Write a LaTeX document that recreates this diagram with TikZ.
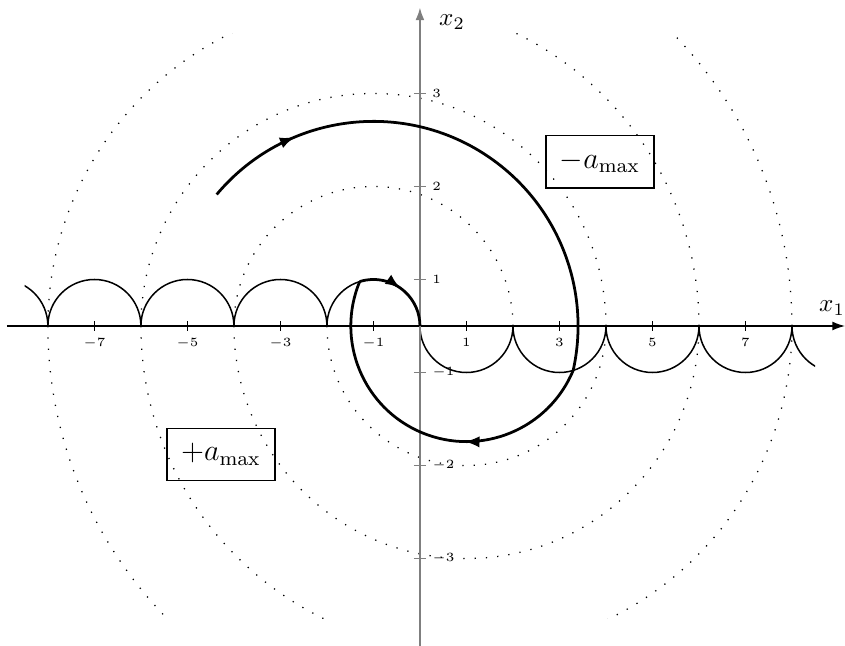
\documentclass[tikz,border=0pt]{standalone}
\usepackage{amsmath}
\usepackage{tikz}
\usetikzlibrary{arrows.meta,decorations.markings,positioning}
\definecolor{AxisGray}{HTML}{7F7F7F}
\tikzset{
  % Axes and ticks
  axX/.style={line width=0.5pt,-{Latex[length=5pt,width=3.5pt]}},
  axY/.style={line width=0.7pt,draw=AxisGray,-{Latex[length=5pt,width=3.5pt]}},
  tk/.style={line width=0.5pt},
  tkY/.style={line width=0.5pt,draw=AxisGray},
  TL/.style={font=\tiny,inner sep=1pt},
  % Switching curve
  sw/.style={line width=0.6pt},
  % Level circles
  lv/.style={loosely dotted,line width=0.5pt},
  % Trajectory
  traj/.style={line width=1.1pt},
  marr/.style={postaction={decorate},
    decoration={markings,mark=at position #1 with {\arrow{Latex[length=6pt,width=4.5pt]}}}},
  % Control boxes
  ctl/.style={draw,line width=0.5pt,minimum width=1.51cm,minimum height=0.73cm,font=\large}
}

\begin{document}
\begin{tikzpicture}[x=0.65cm,y=0.65cm]
  \useasboundingbox (-9.03,-6.88) rectangle (9.14,7.01);

  % level circles and switching curve
  \begin{scope}
    \clip (-8.5,-6.28) rectangle (8.5,6.28);
    \foreach \r in {3,5,7}{
      \draw[lv] (-1+\r,0) arc (0:180:\r);
      \draw[lv] (1-\r,0) arc (180:360:\r);
    }
    \draw[lv] (8,0) arc (0:90:9);
    \draw[lv] (-8,0) arc (180:270:9);
    \foreach \c in {1,3,5,7,9}{
      \draw[sw] (-\c+1,0) arc (0:180:1);
      \draw[sw] (\c-1,0) arc (180:360:1);
    }
  \end{scope}

  % axes
  \draw[axX] (-8.88,0) -- (9.14,0);
  \draw[axY] (0,-6.95) -- (0,6.85);
  \node (xa) at (8.86,0.39) {$x_1$};
  \node (ya) at (0.69,6.53) {$x_2$};
  \foreach \i in {-7,-5,...,7}{
    \draw[tk] (\i,-0.1) -- (\i,0.1);
    \node[TL,below] (tx\i) at (\i,-0.2) {$\i$};
  }
  \foreach \p/\t in {1/1,3/2,5/3,-1/-1,-3/-2,-5/-3}{
    \draw[tkY] (-0.13,\p) -- (0.13,\p);
    \node[TL,right] (ty\t) at (0.2,\p) {$\t$};
  }

  % optimal path
  \draw[traj,marr=0.18] (-1,0) ++(140:4.4) arc (140:-12.54:4.4) coordinate (s1);
  \draw[traj,marr=0.38] (s1) arc (-22.6:-202.6:2.486) coordinate (s2);
  \draw[traj,marr=0.49] (s2) arc (107.2:0:1);

  % control regions
  \node[ctl] (um) at (3.87,3.53) {$-a_{\max}$};
  \node[ctl] (up) at (-4.28,-2.76) {$+a_{\max}$};
\end{tikzpicture}
\end{document}
